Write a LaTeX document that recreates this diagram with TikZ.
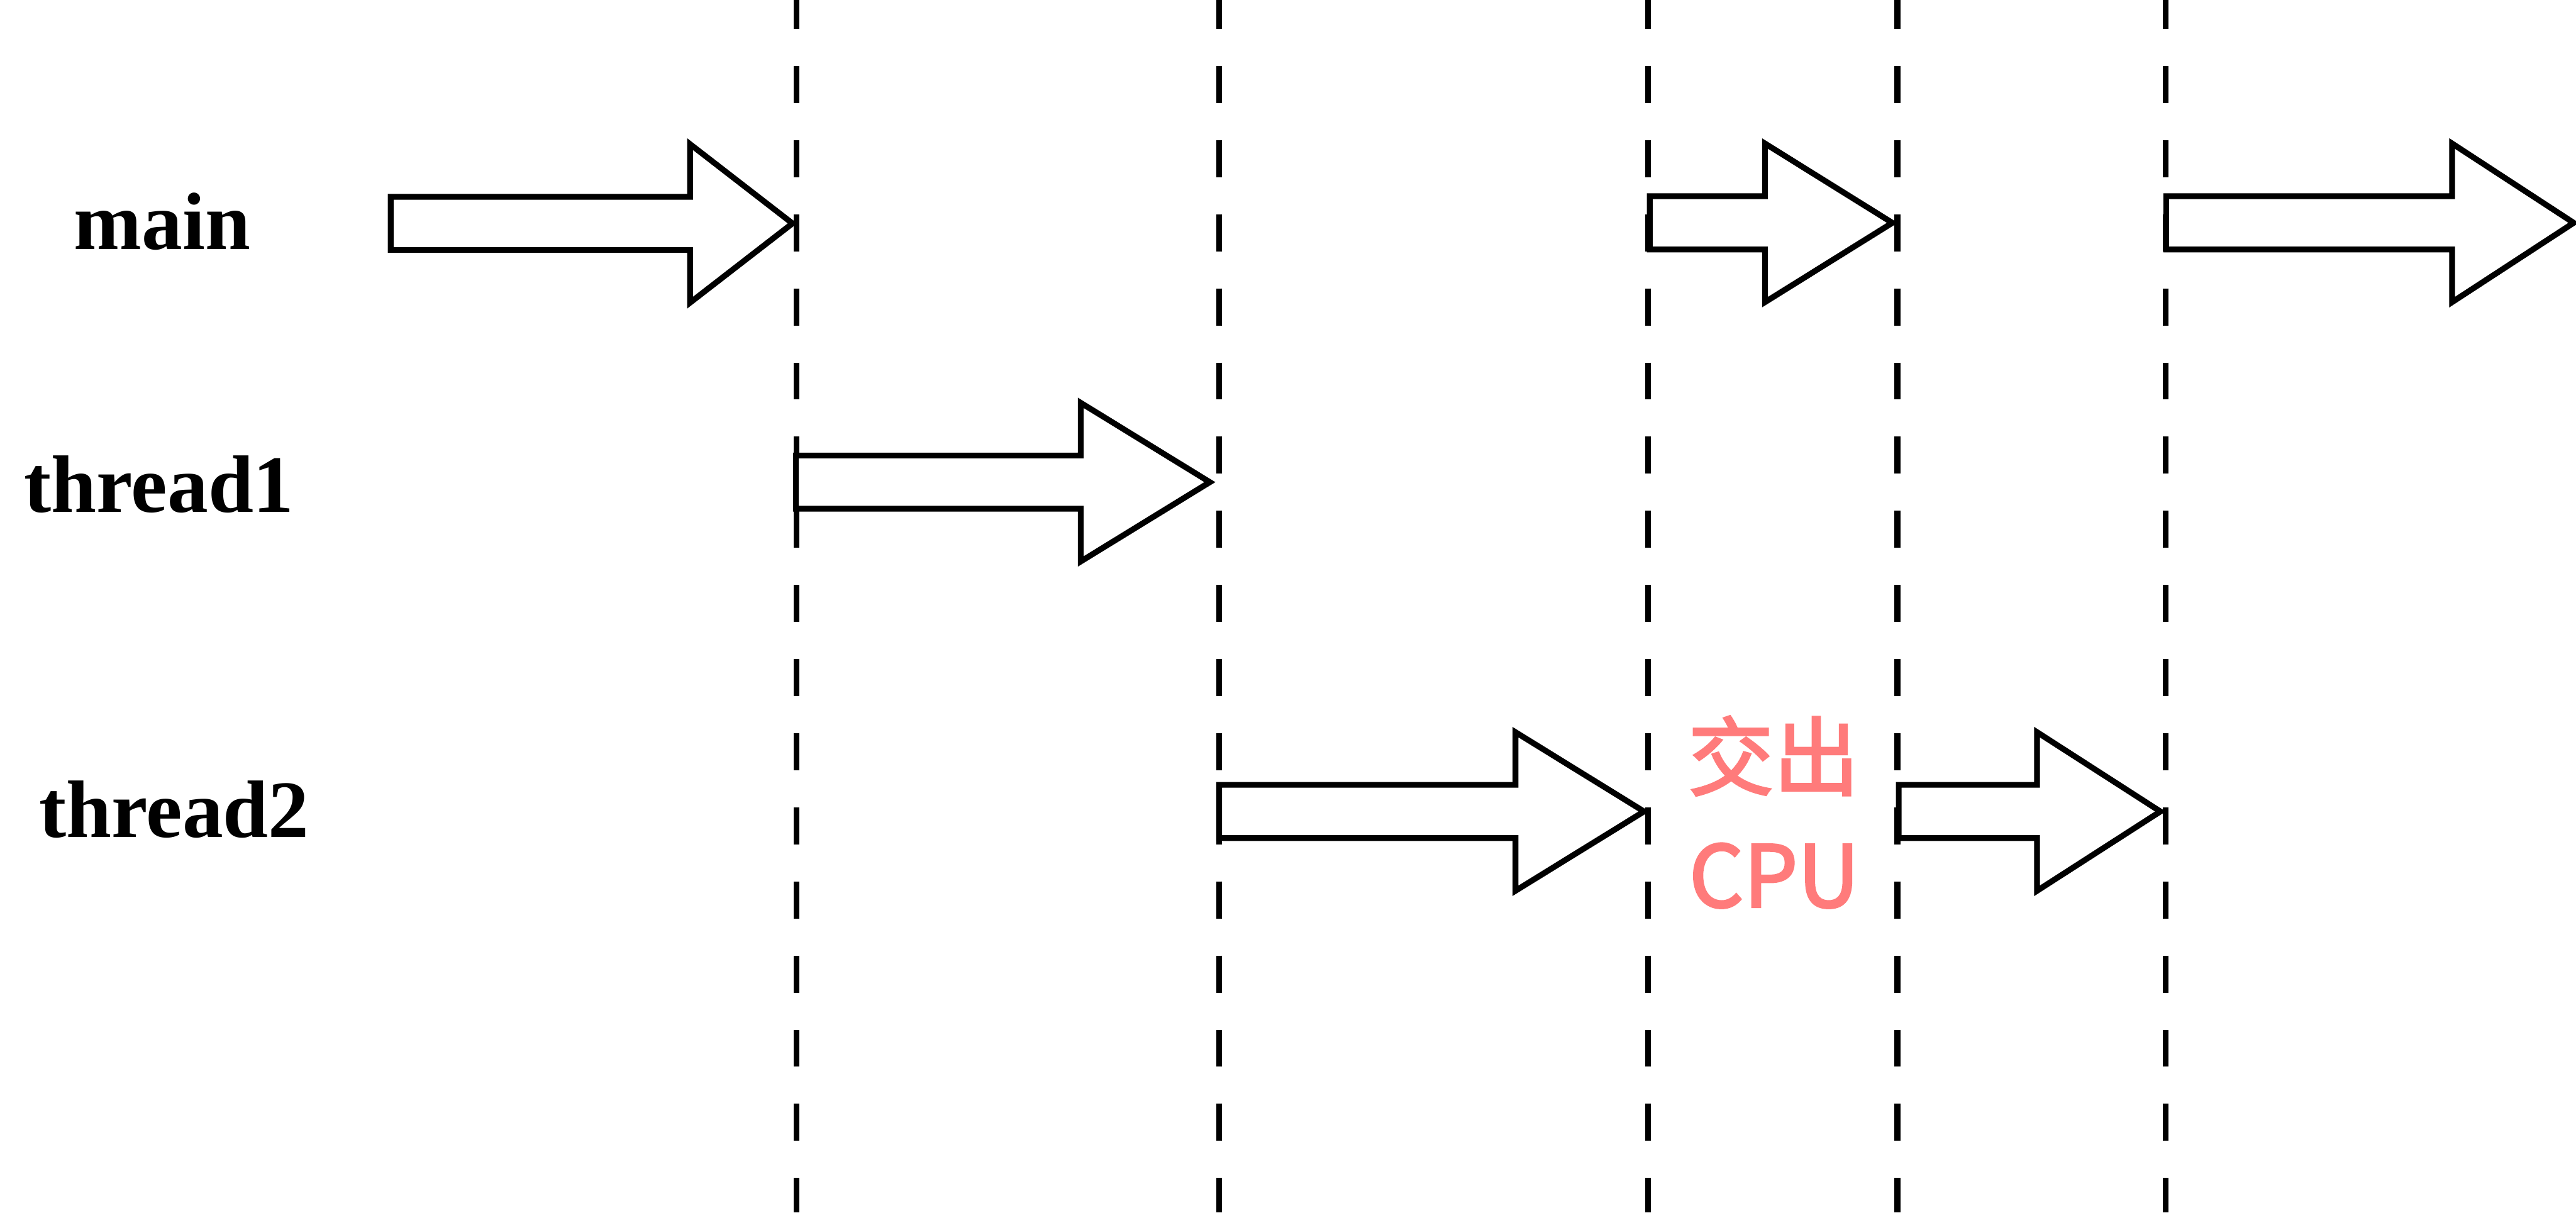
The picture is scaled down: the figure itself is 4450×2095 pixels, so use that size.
\documentclass[tikz,border=0pt]{standalone}
\usepackage{fontspec}
\setmainfont{Liberation Serif}
\newfontfamily\cjkfont{Noto Sans CJK SC}[RawFeature={embolden=2.5}]
\definecolor{redtxt}{HTML}{FF7B7B}
\newcommand{\BlockArrow}[4]{%
  \draw[barrow] (#1,#4-46) -- (#2,#4-46) -- (#2,#4-137) -- (#3,#4)
    -- (#2,#4+137) -- (#2,#4+46) -- (#1,#4+46) -- cycle;}
\begin{document}
\begin{tikzpicture}[x=0.01cm,y=-0.01cm,
  vline/.style={line width=1.05mm, dash pattern=on 6.4mm off 6.4mm, dash phase=1.4mm},
  barrow/.style={line width=1mm, line join=miter, fill=white},
  lbl/.style={font=\fontsize{40}{48}\selectfont\bfseries, anchor=base, inner sep=0pt},
  redlbl/.style={text=redtxt, font=\cjkfont\fontsize{42}{50}\selectfont, inner sep=0pt}]
\useasboundingbox (0,0) rectangle (4450,2095);
% time separators
\foreach \xx in {1376,2106,2847,3278,3741}
  \draw[vline] (\xx,0) -- (\xx,2095);
% row labels
\node[lbl] (lmain) at (280,431) {main};
\node[lbl] (lt1) at (275,885) {thread1};
\node[lbl] (lt2) at (301,1447) {thread2};
% main row
\BlockArrow{675}{1192}{1369}{386}
\BlockArrow{2850}{3049}{3269}{385}
\BlockArrow{3742}{4236}{4446}{385}
% thread1 row
\BlockArrow{1375}{1867}{2090}{833}
% thread2 row
\BlockArrow{2106}{2618}{2840}{1402}
\BlockArrow{3280}{3519}{3732}{1402}
% note
\node[redlbl] (yield) at (3064,1306) {交出};
\node[redlbl] (cpu) at (3065,1513) {CPU};
\end{tikzpicture}
\end{document}
